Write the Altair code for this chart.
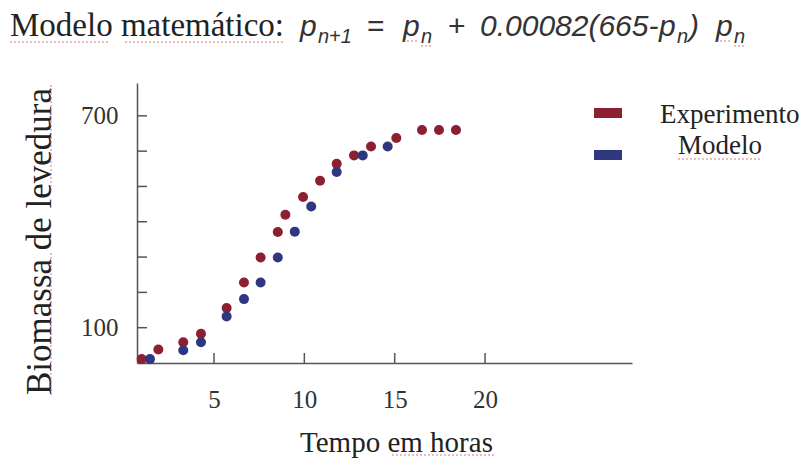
import altair as alt
import pandas as pd

# ---------------- data ----------------
series_names = ["Experimento", "Modelo"]
series_colors = ["#8c1f30", "#2f3780"]

exp_hours = [1.0, 1.92, 3.30, 4.28, 5.70, 6.66, 7.58, 8.53, 8.95, 9.93,
             10.87, 11.79, 12.75, 13.69, 15.09, 16.51, 17.45, 18.39]
exp_biomass = [11, 38, 59, 83, 156, 228, 299, 371, 420, 470,
               516, 564, 588, 613, 637, 660, 660, 660]

mod_hours = [1.46, 3.30, 4.28, 5.70, 6.66, 7.58, 8.53, 9.47, 10.38, 11.79, 13.23, 14.61]
mod_biomass = [11, 36, 59, 132, 181, 228, 299, 372, 443, 541, 588, 613]

x_ticks = [5, 10, 15, 20]
y_ticks = [100, 200, 300, 400, 500, 600, 700]
y_labeled = [100, 700]

x_title = "Tempo em horas"
y_title = "Biomassa de levedura"

# ---------------- layout ----------------
W, H = 495, 280
LEFT, TOP = 137, 83          # page position of the plot origin
SERIF = "Liberation Serif"
SANS = "Liberation Sans"
AXIS_COLOR = "#555555"


def px(x):
    return x - LEFT


def py(y):
    return y - TOP


df = pd.DataFrame({
    "hours": exp_hours + mod_hours,
    "biomass": exp_biomass + mod_biomass,
    "series": [series_names[0]] * len(exp_hours) + [series_names[1]] * len(mod_hours),
})

color_scale = alt.Scale(domain=series_names, range=series_colors)
x_scale = alt.Scale(domain=[0.74, 28.13], nice=False, zero=False)
y_scale = alt.Scale(domain=[0, 793], nice=False, zero=False)

label_expr = " || ".join(f"datum.value == {v}" for v in y_labeled)

points = alt.Chart(df).mark_circle(size=100, opacity=1).encode(
    x=alt.X("hours:Q", scale=x_scale,
            axis=alt.Axis(values=x_ticks, title=x_title, grid=False,
                          ticks=False, tickSize=0,
                          domainColor=AXIS_COLOR, domainWidth=1.5,
                          labelFont=SERIF, labelFontSize=25, labelColor="#333333",
                          labelPadding=44, labelBaseline="alphabetic", labelFlush=False,
                          titleFont=SERIF, titleFontSize=29, titleFontWeight="normal",
                          titleColor="#222222", titleX=259, titleY=88,
                          titleAlign="center", titleBaseline="alphabetic")),
    y=alt.Y("biomass:Q", scale=y_scale,
            axis=alt.Axis(values=y_ticks, title=y_title, grid=False,
                          ticks=False, tickSize=0,
                          labelExpr=f"({label_expr}) ? datum.label : ''",
                          domainColor=AXIS_COLOR, domainWidth=1.5,
                          labelFont=SERIF, labelFontSize=25, labelColor="#333333",
                          labelPadding=19, labelBaseline="middle", labelAlign="right",
                          labelFlush=False, labelOverlap=False,
                          titleFont=SERIF, titleFontSize=35, titleFontWeight="normal",
                          titleColor="#222222", titleX=-87, titleY=158, titleAngle=270,
                          titleAlign="center", titleBaseline="alphabetic")),
    color=alt.Color("series:N", scale=color_scale, legend=None),
)

# inward-pointing ticks
x_tick_marks = alt.Chart(pd.DataFrame({"hours": x_ticks})).mark_rule(
    color=AXIS_COLOR, strokeWidth=1.5
).encode(x="hours:Q", y=alt.value(H - 10), y2=alt.value(H))

y_tick_marks = alt.Chart(pd.DataFrame({"biomass": y_ticks})).mark_rule(
    color=AXIS_COLOR, strokeWidth=1.5
).encode(y="biomass:Q", x=alt.value(0), x2=alt.value(10))


def text_piece(label, x, y, size, font, italic=False, color="#222222"):
    return alt.Chart(pd.DataFrame({"label": [label]})).mark_text(
        align="left", baseline="alphabetic", font=font, fontSize=size,
        fontStyle="italic" if italic else "normal", color=color
    ).encode(text="label:N", x=alt.value(px(x)), y=alt.value(py(y)))


def squiggle(x1, y1, x2, y2):
    return alt.Chart(pd.DataFrame({"k": [0]})).mark_rule(
        color="#d05555", strokeWidth=1, strokeDash=[2, 2], opacity=0.8
    ).encode(x=alt.value(px(x1)), x2=alt.value(px(x2)),
             y=alt.value(py(y1)), y2=alt.value(py(y2)))


FC = "#333333"
MS, SS = 30, 20   # main and subscript font sizes of the formula
title_layers = [
    text_piece("Modelo matemático:", 10, 36, 33, SERIF, color="#222222"),
    text_piece("p", 300, 36, MS, SANS, True, FC),
    text_piece("n+1", 318, 43, SS, SANS, True, FC),
    text_piece("=", 367, 36, MS, SANS, False, FC),
    text_piece("p", 403, 36, MS, SANS, True, FC),
    text_piece("n", 421, 43, SS, SANS, True, FC),
    text_piece("+", 448, 36, MS, SANS, False, FC),
    text_piece("0.00082(665-", 480, 36, MS, SANS, True, FC),
    text_piece("p", 659, 36, MS, SANS, True, FC),
    text_piece("n", 677, 43, SS, SANS, True, FC),
    text_piece(")", 689, 36, MS, SANS, True, FC),
    text_piece("p", 716, 36, MS, SANS, True, FC),
    text_piece("n", 734, 43, SS, SANS, True, FC),
]

# legend drawn from the series list
legend_layers = []
for name, sym_y, lab_x, lab_y in zip(series_names, [113, 155], [660, 678], [123, 154]):
    one = pd.DataFrame({"series": [name]})
    legend_layers.append(
        alt.Chart(one).mark_rect().encode(
            x=alt.value(px(594)), x2=alt.value(px(622)),
            y=alt.value(py(sym_y - 5)), y2=alt.value(py(sym_y + 5)),
            color=alt.Color("series:N", scale=color_scale, legend=None)))
    legend_layers.append(
        alt.Chart(one).mark_text(align="left", baseline="alphabetic", font=SERIF,
                                 fontSize=27, color="#222222").encode(
            text="series:N", x=alt.value(px(lab_x)), y=alt.value(py(lab_y))))

# spell-check underlines seen in the picture
squiggles = [
    squiggle(10, 42, 110, 42), squiggle(125, 42, 283, 42),
    squiggle(403, 41, 418, 41), squiggle(421, 46, 431, 46),
    squiggle(716, 41, 731, 41), squiggle(734, 46, 744, 46),
    squiggle(392, 455, 495, 455),
    squiggle(678, 159, 762, 159),
    squiggle(51, 85, 51, 193), squiggle(51, 253, 51, 397),
]

chart = alt.layer(
    points, x_tick_marks, y_tick_marks, *title_layers, *legend_layers, *squiggles
).properties(
    width=W, height=H,
    autosize=alt.AutoSizeParams(type="none"),
    padding={"left": 129, "top": 75, "right": 169, "bottom": 95},
    background="white",
).configure_view(stroke=None)

chart.save("out.html", embed_options={"renderer": "svg", "actions": False})
